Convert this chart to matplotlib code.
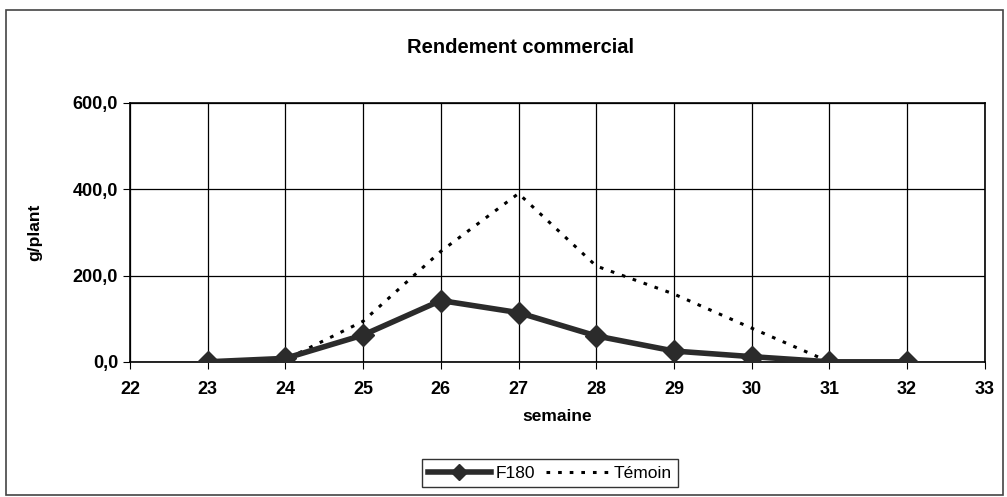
import matplotlib
matplotlib.use('Agg')
import matplotlib.pyplot as plt
from matplotlib.ticker import FuncFormatter
from matplotlib.patches import Rectangle

plt.rcParams['font.family'] = ['Liberation Sans', 'DejaVu Sans']

# données
semaines = [23, 24, 25, 26, 27, 28, 29, 30, 31, 32]
f180 = [0, 8, 62, 142, 114, 60, 25, 12, 0, 0]
temoin = [0, 5, 94, 256, 390, 222, 157, 78, 0, 0]

fig = plt.figure(figsize=(10.07, 4.97), dpi=100)
ax = fig.add_axes([0.129, 0.272, 0.849, 0.521])

ax.plot(semaines, temoin, color='black', lw=2.2, ls=(0, (1.2, 2.6)),
        label='Témoin', zorder=3)
ax.plot(semaines, f180, color='#2b2b2b', lw=4, marker='D', ms=11,
        label='F180', zorder=4)

ax.set_xlim(22, 33)
ax.set_ylim(0, 600)
ax.set_xticks(range(22, 34))
ax.set_yticks([0, 200, 400, 600])
ax.yaxis.set_major_formatter(FuncFormatter(lambda v, p: f'{v:.1f}'.replace('.', ',')))

ax.grid(color='black', lw=0.9)
for s in ax.spines.values():
    s.set_color('black')
    s.set_linewidth(1.2)
ax.tick_params(axis='both', labelsize=13, color='black', length=5)
ax.tick_params(axis='x', pad=9)
plt.setp(ax.get_xticklabels(), fontweight='bold')
plt.setp(ax.get_yticklabels(), fontweight='bold')

ax.set_xlabel('semaine', fontsize=12.5, fontweight='bold', labelpad=8)
ax.set_ylabel('g/plant', fontsize=12.5, fontweight='bold', labelpad=22)
fig.text(0.517, 0.905, 'Rendement commercial', ha='center', va='center',
         fontsize=14.5, fontweight='bold')

# légende en bas, sur une ligne
h, l = ax.get_legend_handles_labels()
leg = fig.legend(h[::-1], l[::-1], loc='center', bbox_to_anchor=(0.546, 0.048),
                 ncol=2, fontsize=12.5, frameon=True, fancybox=False,
                 edgecolor='black', handlelength=3.6, columnspacing=0.6,
                 handletextpad=0.3, borderpad=0.35, markerscale=0.7)
leg.get_frame().set_linewidth(1.0)

# cadre extérieur
fig.patches.append(Rectangle((0.006, 0.004), 0.99, 0.976, transform=fig.transFigure,
                             fill=False, edgecolor='#444444', lw=1.2))

fig.savefig('out.png', dpi=100)
